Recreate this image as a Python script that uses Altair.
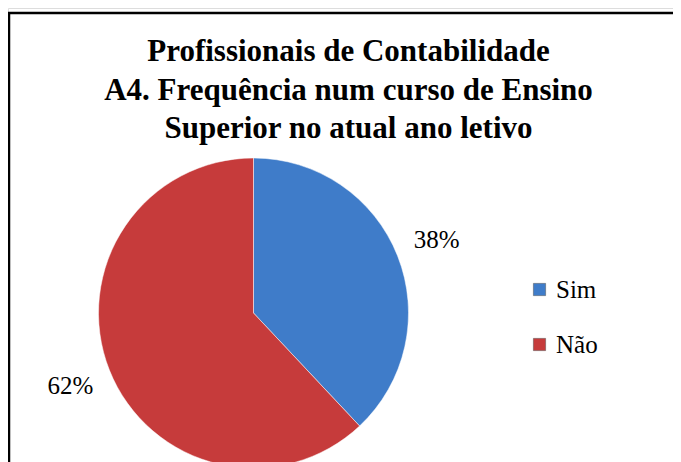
import altair as alt
import pandas as pd

categories = ["Sim", "Não"]
values = [38, 62]
labels = ["38%", "62%"]
order_idx = [0, 1]
colors = ["#3F7CC9", "#C63B3B"]
title_lines = ["Profissionais de Contabilidade",
               "A4. Frequência num curso de Ensino",
               "Superior no atual ano letivo"]

df = pd.DataFrame({"cat": categories, "val": values, "lab": labels, "idx": order_idx})

CX, CY, R = 245.5, 305, 155

base = alt.Chart(df).encode(
    theta=alt.Theta("val:Q", stack=True),
    order=alt.Order("idx:Q"),
)

pie = base.mark_arc(outerRadius=R, stroke="#ffffff", strokeWidth=0.5).encode(
    x=alt.value(CX), y=alt.value(CY),
    color=alt.Color("cat:N", scale=alt.Scale(domain=categories, range=colors),
                    legend=alt.Legend(title=None, orient="none", legendX=519, legendY=269,
                                      symbolType="square", symbolSize=150,
                                      symbolStrokeColor="#555555", symbolStrokeWidth=0.5,
                                      labelFont="Liberation Serif", labelFontSize=25,
                                      labelColor="#000000", labelOffset=4,
                                      rowPadding=29)),
)

txt = base.mark_text(radius=197, font="Liberation Serif", fontSize=25, color="#000000").encode(
    x=alt.value(CX), y=alt.value(CY), text="lab:N"
)

frame = pd.DataFrame({"a": [0]})
top_rule = alt.Chart(frame).mark_rule(color="#000000", strokeWidth=2.5).encode(
    x=alt.value(0), x2=alt.value(700), y=alt.value(5))
left_rule = alt.Chart(frame).mark_rule(color="#000000", strokeWidth=2.5).encode(
    x=alt.value(1), y=alt.value(5), y2=alt.value(500))

chart = alt.layer(top_rule, left_rule, pie, txt).properties(
    width=665, height=454,
    padding=0,
    autosize=alt.AutoSizeParams(type="none"),
    title=alt.TitleParams(text=title_lines, font="Liberation Serif", fontSize=31,
                          fontWeight="bold", color="#000000", lineHeight=38.5,
                          anchor="middle", offset=-137, dx=8),
).configure_view(stroke=None).configure(background="#ffffff")

chart.save("out.html", embed_options={"renderer": "svg", "actions": False})
